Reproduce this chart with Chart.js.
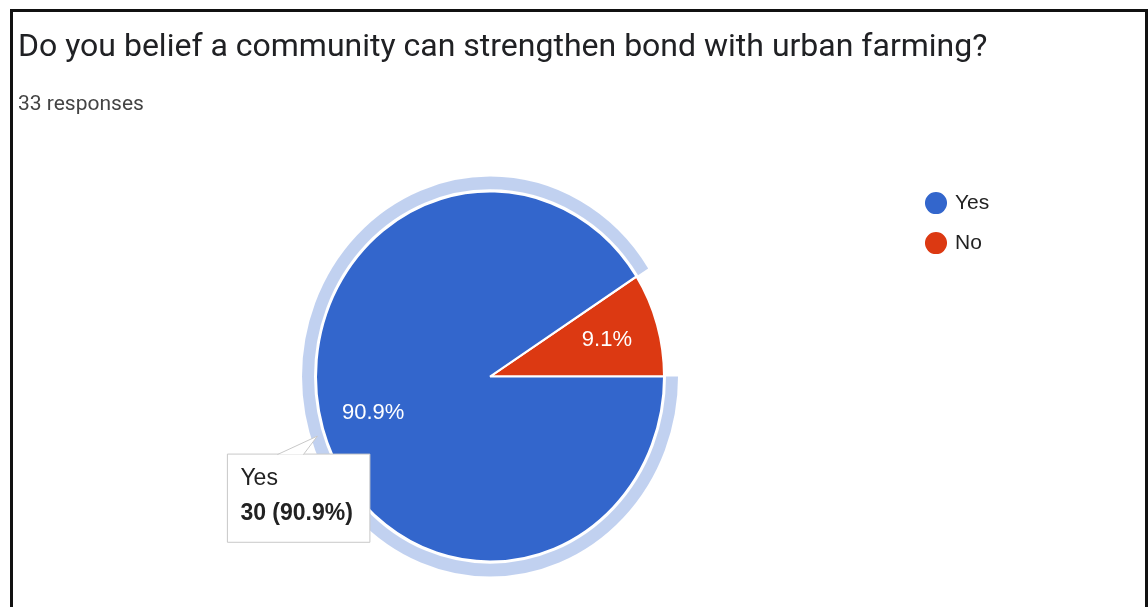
<!DOCTYPE html>
<html>
<head>
<meta charset="utf-8">
<script src="https://cdn.jsdelivr.net/npm/chart.js@4.4.1/dist/chart.umd.min.js"></script>
<style>
  html, body { margin: 0; padding: 0; background: #fff; }
  #wrap { position: relative; width: 1148px; height: 607px; overflow: hidden; }
  #myChart { position: absolute; left: 0; top: 0; }
  #frame {
    position: absolute; left: 10px; top: 9px; width: 1138px; height: 598px;
    box-sizing: border-box; border: 3px solid #111; border-bottom: none;
    pointer-events: none;
  }
</style>
</head>
<body>
<div id="wrap">
  <canvas id="myChart" width="1148" height="607"></canvas>
  <div id="frame"></div>
</div>
<script>
const question = 'Do you belief a community can strengthen bond with urban farming?';
const responseCount = '33 responses';
const answers = ['Yes', 'No'];
const counts = [30, 3];
const sliceColors = ['#3366cc', '#dc3912'];
const haloColor = 'rgba(51, 102, 204, 0.3)';

const total = counts.reduce((a, b) => a + b, 0);
const pct = v => (v / total * 100).toFixed(1) + '%';

const ARIAL = 'Arial, "Liberation Sans", sans-serif';
const PIE_R = 174;        // outer radius incl. half of the white border
const SQUASH = 1.0636;    // pie is drawn slightly taller than wide
const LEGEND_X = 908.5;

// google-ish tooltip: box sits below-left of the hovered slice
Chart.Tooltip.positioners.beside = function(items) {
    if (!items.length) return false;
    const arc = items[0].element;
    const mid = (arc.startAngle + arc.endAngle) / 2;
    const r = arc.outerRadius + 8;
    return {
        x: arc.x + Math.cos(mid) * r - 88,
        y: arc.y + Math.sin(mid) * r * SQUASH + 23
    };
};

const pieExtras = {
    id: 'pieExtras',
    afterLayout(chart) {
        // legend floats a bit left of its layout slot
        const lg = chart.legend;
        lg.right += LEGEND_X - lg.left;
        lg.left = LEGEND_X;
    },
    beforeDatasetsDraw(chart) {
        const arc = chart.getDatasetMeta(0).data[0];
        const ctx = chart.ctx;
        ctx.save();
        ctx.translate(arc.x, arc.y);
        ctx.scale(1, SQUASH);
        ctx.translate(-arc.x, -arc.y);
    },
    afterDatasetsDraw(chart) {
        const ctx = chart.ctx;
        // ring around the hovered slice
        chart.getActiveElements().forEach(({element}) => {
            const {x, y, startAngle, endAngle, outerRadius} = element;
            ctx.beginPath();
            ctx.arc(x, y, outerRadius + 8, startAngle, endAngle);
            ctx.lineWidth = 12;
            ctx.strokeStyle = haloColor;
            ctx.stroke();
        });
        ctx.restore();

        // percentage labels inside the slices
        const meta = chart.getDatasetMeta(0);
        ctx.save();
        ctx.font = '22px ' + ARIAL;
        ctx.fillStyle = '#ffffff';
        ctx.textAlign = 'center';
        ctx.textBaseline = 'middle';
        meta.data.forEach((arc, i) => {
            const mid = (arc.startAngle + arc.endAngle) / 2;
            const r = arc.outerRadius * 0.7;
            ctx.fillText(pct(counts[i]), arc.x + Math.cos(mid) * r, arc.y + Math.sin(mid) * r * SQUASH);
        });
        ctx.restore();
    },
    afterTooltipDraw(chart) {
        // little pointer from the tooltip box up to the slice
        const tt = chart.tooltip;
        if (!tt || !tt.opacity) return;
        const ctx = chart.ctx;
        const bx = tt.x, by = tt.y;
        ctx.save();
        ctx.beginPath();
        ctx.moveTo(bx + 50, by + 0.5);
        ctx.lineTo(bx + 90, by - 18);
        ctx.lineTo(bx + 76, by + 0.5);
        ctx.closePath();
        ctx.fillStyle = '#ffffff';
        ctx.fill();
        ctx.beginPath();
        ctx.moveTo(bx + 50, by + 0.5);
        ctx.lineTo(bx + 90, by - 18);
        ctx.lineTo(bx + 76, by + 0.5);
        ctx.strokeStyle = '#c8c8c8';
        ctx.lineWidth = 1;
        ctx.stroke();
        ctx.restore();
    }
};

const ctx = document.getElementById('myChart').getContext('2d');

const myChart = new Chart(ctx, {
    type: 'pie',
    data: {
        labels: answers,
        datasets: [{
            data: counts,
            backgroundColor: sliceColors,
            hoverBackgroundColor: sliceColors,
            borderColor: '#ffffff',
            hoverBorderColor: '#ffffff',
            borderWidth: 2,
            hoverBorderWidth: 2,
            hoverOffset: 0,
            clip: false
        }]
    },
    options: {
        responsive: false,
        animation: false,
        rotation: 90,
        radius: PIE_R,
        events: [],
        layout: {
            padding: { top: 0, left: 18, right: 95.2, bottom: 27.5 }
        },
        plugins: {
            title: {
                display: true,
                text: question,
                align: 'start',
                color: '#202124',
                font: { family: 'Roboto', size: 32, weight: 'normal' },
                padding: { top: 29, bottom: 13 }
            },
            subtitle: {
                display: true,
                text: responseCount,
                align: 'start',
                color: '#444444',
                font: { family: 'Roboto', size: 21, weight: 'normal' },
                padding: { top: 12, bottom: 56 }
            },
            legend: {
                display: true,
                position: 'right',
                align: 'start',
                fullSize: false,
                labels: {
                    usePointStyle: true,
                    pointStyle: 'circle',
                    boxWidth: 17,
                    boxHeight: 17,
                    padding: 19,
                    color: '#222222',
                    font: { family: ARIAL, size: 21 }
                }
            },
            tooltip: {
                enabled: true,
                position: 'beside',
                xAlign: 'left',
                yAlign: 'top',
                caretSize: 0,
                caretPadding: 0,
                cornerRadius: 0,
                backgroundColor: '#ffffff',
                borderColor: '#c8c8c8',
                borderWidth: 1,
                titleColor: '#222222',
                bodyColor: '#222222',
                titleFont: { family: ARIAL, size: 23, weight: 'normal' },
                bodyFont: { family: ARIAL, size: 23, weight: 'bold' },
                titleMarginBottom: 7,
                displayColors: false,
                padding: { left: 13, right: 17, top: 11, bottom: 15 },
                callbacks: {
                    title: items => items[0].label,
                    label: item => `${item.raw} (${pct(item.raw)})`
                }
            }
        }
    },
    plugins: [pieExtras]
});

// show the "Yes" slice as hovered, with its tooltip
myChart.setActiveElements([{ datasetIndex: 0, index: 0 }]);
myChart.tooltip.setActiveElements([{ datasetIndex: 0, index: 0 }], { x: 0, y: 0 });
myChart.update();
</script>
</body>
</html>
